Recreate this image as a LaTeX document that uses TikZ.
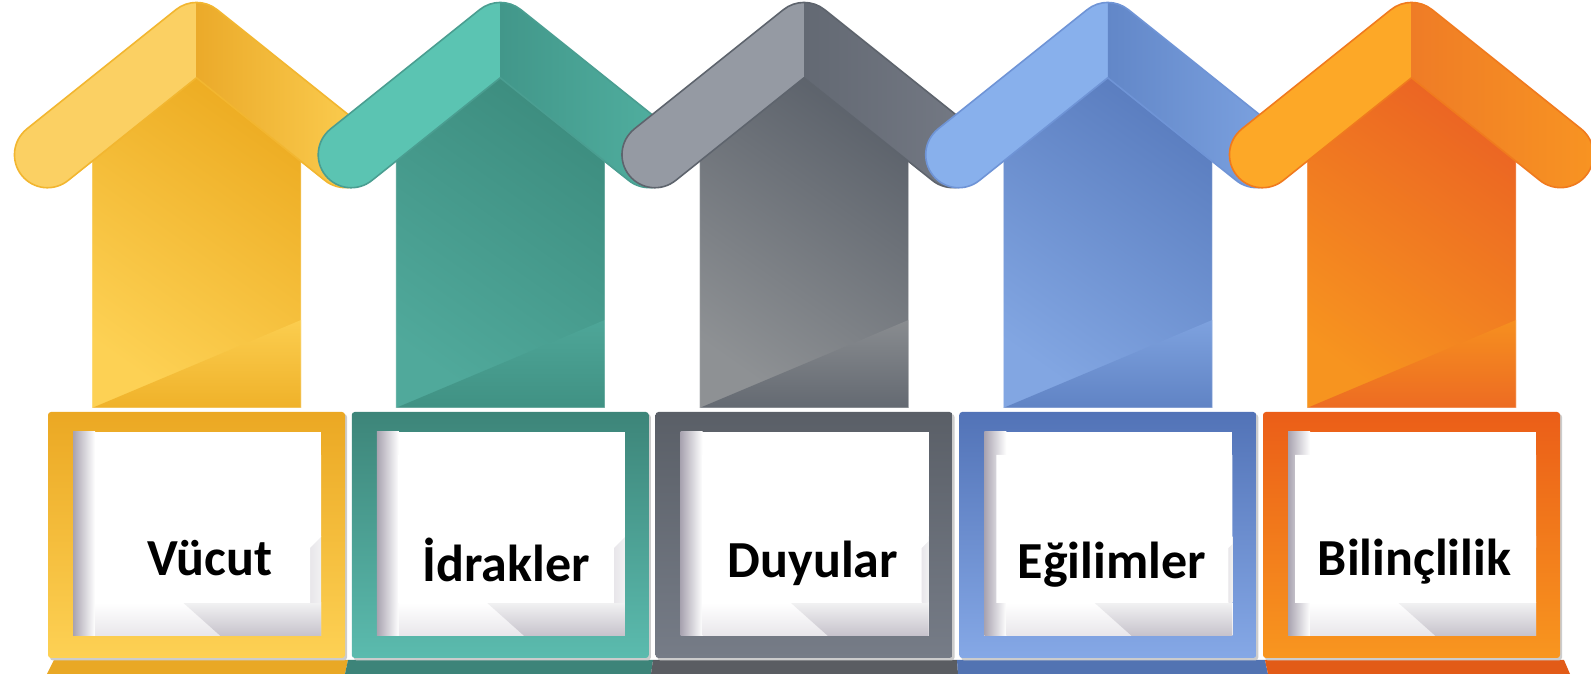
\documentclass[tikz,border=0pt]{standalone}
\usepackage{fontspec}
\setmainfont{Carlito}
% yellow
\definecolor{yRA}{HTML}{FBD063}\definecolor{yRB}{HTML}{EBAA2A}\definecolor{yRC}{HTML}{FDD154}\definecolor{yRD}{HTML}{F2B630}
\definecolor{yS1}{HTML}{EDAC22}\definecolor{yS2}{HTML}{FDD154}\definecolor{yF1}{HTML}{EBA823}\definecolor{yF2}{HTML}{FDD154}\definecolor{yG}{HTML}{E9A825}
% teal
\definecolor{tRA}{HTML}{5BC4B2}\definecolor{tRB}{HTML}{42978A}\definecolor{tRC}{HTML}{52B2A2}\definecolor{tRD}{HTML}{4A9E91}
\definecolor{tS1}{HTML}{3D8D7F}\definecolor{tS2}{HTML}{50A99B}\definecolor{tF1}{HTML}{3D8579}\definecolor{tF2}{HTML}{5BBBAE}\definecolor{tG}{HTML}{3D8479}
% gray
\definecolor{gRA}{HTML}{959AA3}\definecolor{gRB}{HTML}{636973}\definecolor{gRC}{HTML}{767B86}\definecolor{gRD}{HTML}{5E646D}
\definecolor{gS1}{HTML}{5C626B}\definecolor{gS2}{HTML}{8E9194}\definecolor{gF1}{HTML}{5A5F67}\definecolor{gF2}{HTML}{767C87}\definecolor{gG}{HTML}{5A5D62}
% blue
\definecolor{bRA}{HTML}{88B0EC}\definecolor{bRB}{HTML}{6287C8}\definecolor{bRC}{HTML}{7FA5E3}\definecolor{bRD}{HTML}{6F94D6}
\definecolor{bS1}{HTML}{5A7DBF}\definecolor{bS2}{HTML}{82A6E2}\definecolor{bF1}{HTML}{5273B7}\definecolor{bF2}{HTML}{85A8E6}\definecolor{bG}{HTML}{5273B2}
% orange
\definecolor{oRA}{HTML}{FDA827}\definecolor{oRB}{HTML}{EF7C26}\definecolor{oRC}{HTML}{F89422}\definecolor{oRD}{HTML}{F07A1E}
\definecolor{oS1}{HTML}{EB6423}\definecolor{oS2}{HTML}{F7941F}\definecolor{oF1}{HTML}{EB5E18}\definecolor{oF2}{HTML}{F8961F}\definecolor{oG}{HTML}{E25B17}
% panel greys
\definecolor{shadowgray}{HTML}{A8A3B0}
\definecolor{foldA}{HTML}{E8E6EA}
\definecolor{foldB}{HTML}{F1F1F2}
\definecolor{foldC}{HTML}{C6C2CB}

\tikzset{
  roofshape/.style={insert path={(-169.6,545.1) -- (-20.6,664.3) arc[start angle=128.7,end angle=51.3,radius=33] -- (169.6,545.1) arc[start angle=51.3,end angle=-128.7,radius=33] -- (0,596.2) -- (-128.4,493.5) arc[start angle=-51.3,end angle=-231.3,radius=33] -- cycle}},
  shaftshape/.style={insert path={(-104.5,266) -- (104.5,266) -- (104.5,515) -- (0,600) -- (-104.5,515) -- cycle}},
  lbl/.style={font=\fontsize{52}{60}\selectfont\bfseries, text=black, anchor=base, inner sep=0pt}
}

\newcommand\arrowunit[2]{%
\begin{scope}[shift={(#1,0)}]
  \shade[top color=#2S1, bottom color=#2S2, shading angle=-35, shaftshape];
  \shade[top color=#2S2!90!#2S1, bottom color=#2S1!85!#2S2] (-104.5,266) -- (104.5,266) -- (104.5,354) -- cycle;
  \draw[white, opacity=0.35, line width=1pt, shaftshape];
  \begin{scope}
    \clip[roofshape];
    \fill[#2RA] (-190,480) rectangle (0,680);
    \shade[left color=#2RB, right color=#2RC] (0,480) rectangle (185,680);
  \end{scope}
  \draw[#2RD, line width=1.6pt, line join=round, roofshape];
\end{scope}}

\newcommand\boxunit[8]{%
\begin{scope}[shift={(#1,0)}]
  \fill[black!20, rounded corners=3pt] (-146.5,13.5) rectangle (150.5,260);
  \shade[rounded corners=3pt, top color=#2F1, bottom color=#2F2] (-148.5,16) rectangle (148.5,262);
  \fill[white] (-123.5,38) rectangle (124.5,242);
  \shade[left color=shadowgray, right color=white] (-123.5,38) rectangle (-101.5,242);
  \shade[top color=white, bottom color=foldA] (-101.5,38) rectangle (124.5,71);
  \shade[top color=foldB, bottom color=foldC] (-13,71) -- (124.5,71) -- (124.5,38) -- (24,38) -- cycle;
  \shade[left color=foldA, right color=foldB] ({124.5-#4},71) rectangle (124.5,137);
  \fill[white] ({-123.5+#3},71) -- ({124.5-#4},71) -- ({124.5-#4},126) -- (124.5,{126+#4}) -- (124.5,219) -- ({-123.5+#3},219) -- cycle;
  \node[lbl] (#7) at (#5,#6) {#8};
\end{scope}}

\begin{document}
\begin{tikzpicture}[x=1pt,y=1pt]
\useasboundingbox (0,0) rectangle (1591,674);
\clip (0,0) rectangle (1591,674);

% bottom strips
\fill[yG] (47,0) -- (54,14) -- (348,14) -- (345,0) -- cycle;
\fill[tG] (345,0) -- (348,14) -- (653,14) -- (651,0) -- cycle;
\fill[gG] (651,0) -- (653,14) -- (957,14) -- (958,0) -- cycle;
\fill[bG] (958,0) -- (957,14) -- (1265,14) -- (1268,0) -- cycle;
\fill[oG] (1268,0) -- (1265,14) -- (1564,14) -- (1570,0) -- cycle;

% arrows
\arrowunit{196.5}{y}
\arrowunit{500.25}{t}
\arrowunit{804}{g}
\arrowunit{1107.75}{b}
\arrowunit{1411.5}{o}

% boxes
\boxunit{196.5}{y}{22}{11}{13.5}{98}{t1}{Vücut}
\boxunit{500.25}{t}{21}{11}{6}{92}{t2}{İdrakler}
\boxunit{804}{g}{21.5}{7}{9}{96}{t3}{Duyular}
\boxunit{1107.75}{b}{12}{4}{4}{95}{t4}{Eğilimler}
\boxunit{1411.5}{o}{7}{0.5}{3}{98}{t5}{Bilinçlilik}
\end{tikzpicture}
\end{document}
